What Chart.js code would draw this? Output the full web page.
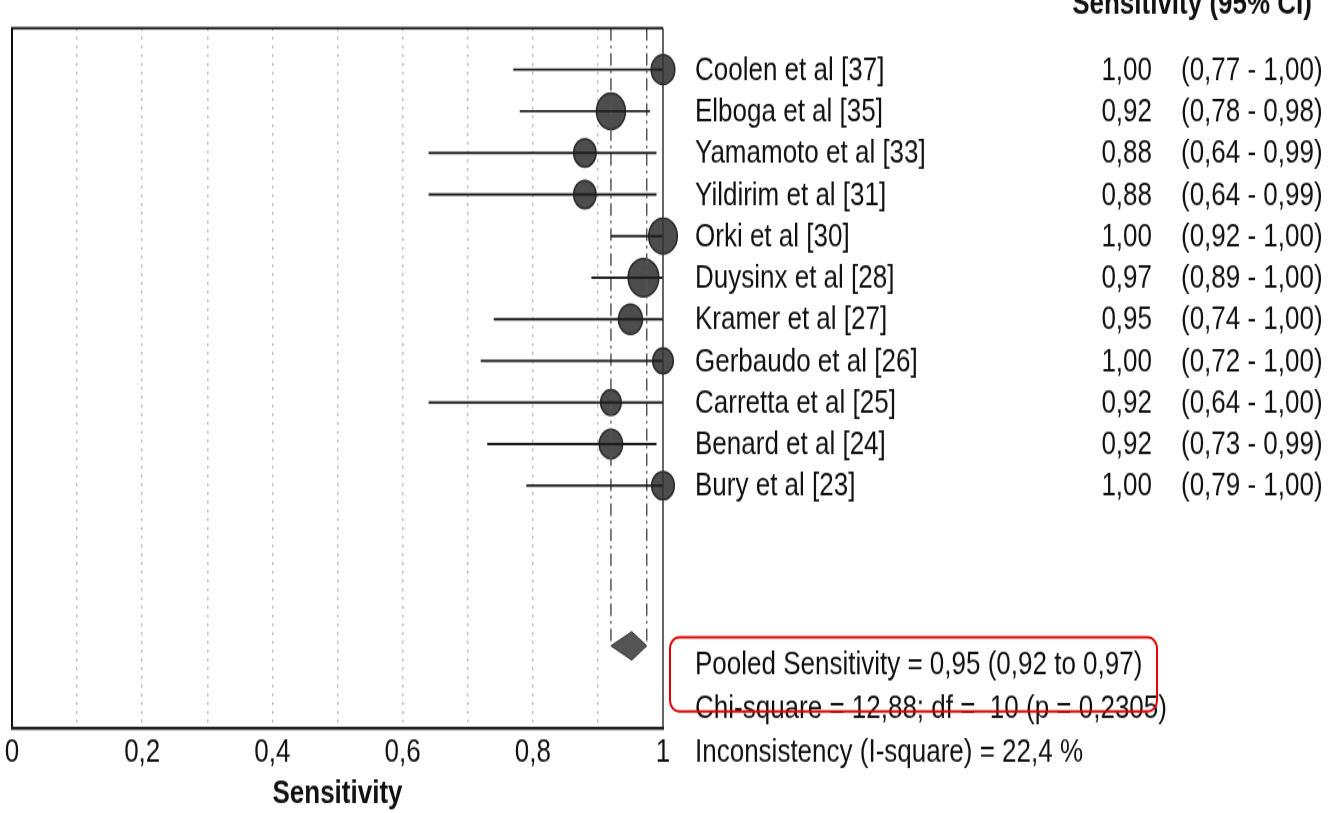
<!DOCTYPE html>
<html>
<head>
<meta charset="utf-8">
<script src="https://cdn.jsdelivr.net/npm/chart.js@4"></script>
<style>
  html, body { margin: 0; background: #fff; }
  #pagina { width: 1329px; height: 813px; overflow: hidden; }
  /* a figura original esta esticada na vertical */
  #forest { display: block; transform: scaleY(1.2508); transform-origin: 0 0; }
</style>
</head>
<body>
<div id="pagina"><canvas id="forest" width="1329" height="650"></canvas></div>
<script>
// dados do forest plot
var estudos = ['Coolen et al [37]', 'Elboga et al [35]', 'Yamamoto et al [33]', 'Yildirim et al [31]',
  'Orki et al [30]', 'Duysinx et al [28]', 'Kramer et al [27]', 'Gerbaudo et al [26]',
  'Carretta et al [25]', 'Benard et al [24]', 'Bury et al [23]']
var sensibilidade = [1.00, 0.92, 0.88, 0.88, 1.00, 0.97, 0.95, 1.00, 0.92, 0.92, 1.00]
var icInferior = [0.77, 0.78, 0.64, 0.64, 0.92, 0.89, 0.74, 0.72, 0.64, 0.73, 0.79]
var icSuperior = [1.00, 0.98, 0.99, 0.99, 1.00, 1.00, 1.00, 1.00, 1.00, 0.99, 1.00]
var pesos = [11.8, 14.5, 11.2, 11.2, 14.3, 15.3, 12, 10.3, 10.3, 11.7, 11.3]
var pooled = 0.952
var pooledInf = 0.92
var pooledSup = 0.975
var tickLabels = ['0', '0,2', '0,4', '0,6', '0,8', '1']
var rodape = ['Pooled Sensitivity = 0,95 (0,92 to 0,97)',
  'Chi-square = 12,88; df =  10 (p = 0,2305)',
  'Inconsistency (I-square) = 22,4 %']

var fonte = '"Liberation Sans", Arial, sans-serif'
var yPooled = 14.85

function fmt(v) {
  return v.toFixed(2).replace('.', ',')
}

var datasets = []

// linhas dos intervalos
for (let i = 0; i < estudos.length; i++) {
  datasets.push({
    type: 'line',
    data: [{ x: icInferior[i], y: i + 1 }, { x: icSuperior[i], y: i + 1 }],
    borderColor: '#1e1e1e',
    borderWidth: 1.9,
    pointRadius: 0,
    fill: false
  })
}

// linhas tracejadas do IC agrupado
datasets.push({
  type: 'line',
  data: [{ x: pooledInf, y: 0 }, { x: pooledInf, y: yPooled }],
  borderColor: '#555',
  borderWidth: 1.5,
  borderDash: [10, 4, 2, 4],
  pointRadius: 0,
  fill: false
})
datasets.push({
  type: 'line',
  data: [{ x: pooledSup, y: 0 }, { x: pooledSup, y: yPooled }],
  borderColor: '#555',
  borderWidth: 1.5,
  borderDash: [10, 4, 2, 4],
  pointRadius: 0,
  fill: false
})

// losango
datasets.push({
  type: 'line',
  data: [
    { x: pooledInf, y: yPooled },
    { x: pooled, y: yPooled - 0.34 },
    { x: pooledSup, y: yPooled },
    { x: pooled, y: yPooled + 0.34 },
    { x: pooledInf, y: yPooled }
  ],
  borderColor: '#333',
  borderWidth: 1,
  backgroundColor: '#555',
  fill: 'shape',
  pointRadius: 0,
  tension: 0
})

// pontos
datasets.push({
  type: 'scatter',
  data: sensibilidade.map(function (s, i) { return { x: s, y: i + 1 } }),
  pointRadius: pesos,
  pointHoverRadius: pesos,
  backgroundColor: '#4d4d4d',
  borderColor: '#2a2a2a',
  borderWidth: 1.5,
  clip: false
})

var moldura = {
  id: 'moldura',
  afterDatasetsDraw: function (chart) {
    var a = chart.chartArea
    var ctx = chart.ctx
    ctx.save()
    ctx.strokeStyle = '#111'
    ctx.lineWidth = 2
    ctx.beginPath()
    ctx.moveTo(a.left, a.bottom)
    ctx.lineTo(a.left, a.top)
    ctx.lineTo(a.right, a.top)
    ctx.stroke()
    ctx.strokeStyle = '#333'
    ctx.lineWidth = 1.5
    ctx.beginPath()
    ctx.moveTo(a.right, a.top)
    ctx.lineTo(a.right, a.bottom)
    ctx.stroke()
    ctx.strokeStyle = '#222'
    ctx.lineWidth = 2.5
    ctx.beginPath()
    ctx.moveTo(a.left - 1, a.bottom)
    ctx.lineTo(a.right + 1, a.bottom)
    ctx.stroke()
    ctx.restore()
  },
  afterDraw: function (chart) {
    var ctx = chart.ctx
    var y = chart.scales.y
    ctx.save()
    ctx.fillStyle = '#111'

    // cabecalho cortado no topo, como no original
    ctx.font = 'bold 26px ' + fonte
    ctx.textAlign = 'right'
    ctx.textBaseline = 'alphabetic'
    ctx.fillText('Sensitivity (95% CI)', 1312, 11)

    ctx.font = '26px ' + fonte
    ctx.textBaseline = 'middle'
    for (let i = 0; i < estudos.length; i++) {
      var py = y.getPixelForValue(i + 1) + 1
      ctx.textAlign = 'left'
      ctx.fillText(estudos[i], 695, py)
      ctx.textAlign = 'right'
      ctx.fillText(fmt(sensibilidade[i]), 1152, py)
      ctx.textAlign = 'left'
      ctx.fillText('(' + fmt(icInferior[i]) + ' - ' + fmt(icSuperior[i]) + ')', 1181, py)
    }

    ctx.textAlign = 'left'
    var linhas = [532, 566.4, 601.6]
    for (let j = 0; j < rodape.length; j++) {
      ctx.fillText(rodape[j], 695, linhas[j])
    }

    // caixa vermelha
    ctx.strokeStyle = '#e00000'
    ctx.lineWidth = 2
    ctx.beginPath()
    ctx.roundRect(670, 509.6, 487, 59.2, 9)
    ctx.stroke()
    ctx.restore()
  }
}

var myChart = new Chart(document.getElementById('forest'), {
  data: { datasets: datasets },
  options: {
    responsive: false,
    animation: false,
    layout: { autoPadding: false, padding: { left: 12, top: 22.4, right: 666, bottom: 0 } },
    plugins: { legend: { display: false }, tooltip: { enabled: false } },
    scales: {
      x: {
        type: 'linear',
        min: 0,
        max: 1,
        afterFit: function (s) {
          s.height = 67.8
          s.paddingLeft = 0
          s.paddingRight = 0
        },
        border: { display: false, dash: [2, 5] },
        grid: {
          drawTicks: false,
          color: function (c) {
            var k = Math.round(c.tick.value * 10)
            return (k === 0 || k === 10) ? 'rgba(0,0,0,0)' : '#b4b4b4'
          },
          lineWidth: 1.5
        },
        ticks: {
          stepSize: 0.1,
          autoSkip: false,
          maxRotation: 0,
          padding: 4,
          color: '#111',
          font: { family: fonte, size: 26 },
          callback: function (v) {
            var k = Math.round(v * 10)
            return k % 2 === 0 ? tickLabels[k / 2] : ''
          }
        },
        title: {
          display: true,
          text: 'Sensitivity',
          color: '#111',
          font: { family: fonte, size: 26, weight: 'bold' },
          padding: { top: 0, bottom: 0 }
        }
      },
      y: {
        type: 'linear',
        min: 0,
        max: 16.83,
        reverse: true,
        display: false
      }
    }
  },
  plugins: [moldura]
})
</script>
</body>
</html>
